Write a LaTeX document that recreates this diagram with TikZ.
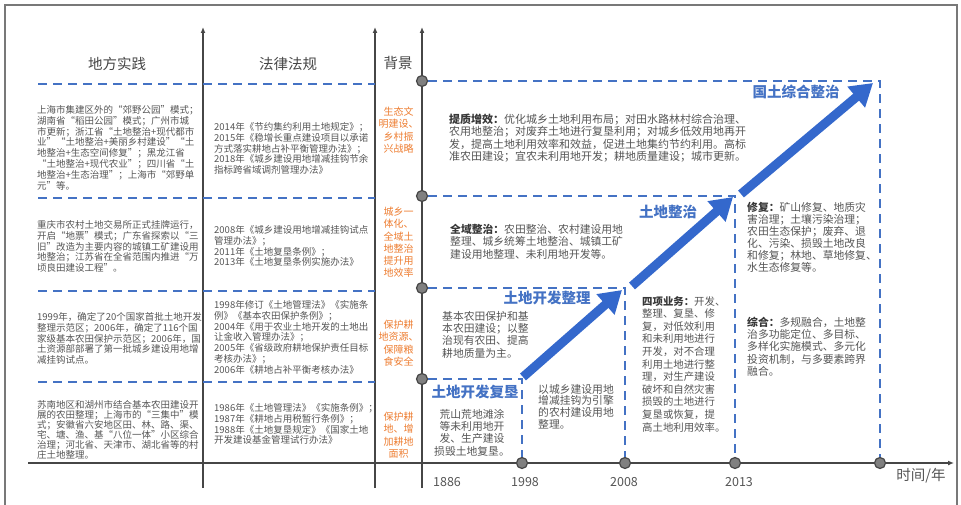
\documentclass[tikz,border=0pt]{standalone}
\usepackage{fontspec}
\setmainfont{Noto Sans CJK SC}
\newfontfamily\fwq{Noto Sans CJK SC}[RawFeature=+fwid]
\newcommand{\qo}{{\fwq “}}
\newcommand{\qc}{{\fwq ”}}
\usetikzlibrary{arrows.meta}
\definecolor{dashblue}{RGB}{68,114,196}
\definecolor{arrowblue}{RGB}{52,104,204}
\definecolor{lblblue}{RGB}{68,114,196}
\definecolor{bgorange}{RGB}{237,125,49}
\definecolor{txtgray}{RGB}{85,85,85}
\definecolor{boldgray}{RGB}{55,55,55}
\definecolor{axisgray}{RGB}{70,70,70}
\definecolor{dotfill}{RGB}{128,128,128}
\definecolor{framegray}{RGB}{120,120,120}
\tikzset{
  dashline/.style={dashblue, line width=2.2pt, dash pattern=on 9pt off 6pt},
  axisline/.style={axisgray, line width=1.3pt},
  axisarrow/.style={axisline, -{Latex[length=6pt,width=5pt]}},
  dot/.style={circle, draw=axisgray, fill=dotfill, line width=1.2pt, minimum size=11pt, inner sep=0pt},
  bigarrow/.style={arrowblue, line width=9pt, -{Triangle[length=22pt,width=26pt]}},
  lefttext/.style={anchor=north west, inner sep=0pt, align=left, text=txtgray, font=\fontsize{9.5}{10.9}\selectfont},
  righttext/.style={anchor=north west, inner sep=0pt, align=left, text=txtgray, font=\fontsize{10.8}{12.3}\selectfont},
  bgtext/.style={anchor=north, inner sep=0pt, align=center, text=bgorange, font=\fontsize{10}{12.2}\selectfont},
  header/.style={text=axisgray, inner sep=0pt, font=\fontsize{14.5}{16}\selectfont},
  stagelbl/.style={text=lblblue, inner sep=0pt, font=\bfseries\fontsize{14.5}{16}\selectfont},
  yearlbl/.style={text=txtgray, inner sep=0pt, font=\fontsize{12.5}{14}\selectfont},
}
\newcommand{\hd}[1]{{\bfseries\color{boldgray}#1}}
\begin{document}
\begin{tikzpicture}[x=1pt,y=-1pt]
\useasboundingbox (0,0) rectangle (961,505);
% frame
\draw[framegray, line width=1.5pt] (5,505) -- (5,5) -- (957,5) -- (957,505);

% axes
\coordinate (c1b) at (203,488); \coordinate (c1t) at (203,27);
\coordinate (c2b) at (375,488); \coordinate (c2t) at (375,27);
\coordinate (c3b) at (422,488); \coordinate (c3t) at (422,27);
\coordinate (hl) at (28,463); \coordinate (hr) at (954,463);
\draw[axisarrow] (c1b) -- (c1t);
\draw[axisarrow] (c2b) -- (c2t);
\draw[axisarrow] (c3b) -- (c3t);
\draw[axisarrow] (hl) -- (hr);

% left dashed separators
\foreach \i/\yy in {1/84,2/198,3/291,4/382}{
  \coordinate (ls\i) at (38,\yy); \coordinate (le\i) at (375,\yy);
  \draw[dashline] (ls\i) -- (le\i);
}

% dots
\node[dot] (v1) at (422,81) {};
\node[dot] (v2) at (422,196) {};
\node[dot] (v3) at (422,288) {};
\node[dot] (v4) at (422,379) {};
\node[dot] (h1) at (522,463) {};
\node[dot] (h2) at (625,463) {};
\node[dot] (h3) at (735,463) {};
\node[dot] (h4) at (880,463) {};

% stage boxes
\draw[dashline] (v1) -- (v1 -| h4) -- (h4);
\draw[dashline] (v2) -- (v2 -| h3) -- (h3);
\draw[dashline] (v3) -- (v3 -| h2) -- (h2);
\draw[dashline] (v4) -- (v4 -| h1) -- (h1);

% big arrows
\coordinate (a1s) at (523,377); \coordinate (a1e) at (622,290);
\coordinate (a2s) at (632,286); \coordinate (a2e) at (733,197);
\coordinate (a3s) at (741,194); \coordinate (a3e) at (873,83);
\draw[bigarrow] (a1s) -- (a1e);
\draw[bigarrow] (a2s) -- (a2e);
\draw[bigarrow] (a3s) -- (a3e);

% headers
\node[header] (hdA) at (117,64) {地方实践};
\node[header] (hdB) at (288,64) {法律法规};
\node[header] (hdC) at (398,63) {背景};

% left column
\node[lefttext] (L1) at (37,105) {上海市集建区外的\qo 郊野公园\qc 模式；\\
湖南省\qo 稻田公园\qc 模式；广州市城\\
市更新；浙江省\qo 土地整治+现代都市\\
业\qc\qo 土地整治+美丽乡村建设\qc\qo 土\\
地整治+生态空间修复\qc ；黑龙江省\\
\qo 土地整治+现代农业\qc ；四川省\qo 土\\
地整治+生态治理\qc ；上海市\qo 郊野单\\
元\qc 等。};
\node[lefttext] (L2) at (37,220) {重庆市农村土地交易所正式挂牌运行，\\
开启\qo 地票\qc 模式；广东省探索以\qo 三\\
旧\qc 改造为主要内容的城镇工矿建设用\\
地整治；江苏省在全省范围内推进\qo 万\\
顷良田建设工程\qc 。};
\node[lefttext] (L3) at (37,312) {1999年，确定了20个国家首批土地开发\\
整理示范区；2006年，确定了116个国\\
家级基本农田保护示范区；2006年，国\\
土资源部部署了第一批城乡建设用地增\\
减挂钩试点。};
\node[lefttext, font=\fontsize{9.5}{9.9}\selectfont] (L4) at (37,400.5) {苏南地区和湖州市结合基本农田建设开\\
展的农田整理；上海市的\qo 三集中\qc 模\\
式；安徽省六安地区田、林、路、渠、\\
宅、塘、渔、基\qo 八位一体\qc 小区综合\\
治理；河北省、天津市、湖北省等的村\\
庄土地整理。};

% law column
\node[lefttext] (W1) at (214,122) {2014年《节约集约利用土地规定》；\\
2015年《稳增长重点建设项目以承诺\\
方式落实耕地占补平衡管理办法》；\\
2018年《城乡建设用地增减挂钩节余\\
指标跨省域调剂管理办法》};
\node[lefttext] (W2) at (214,225) {2008年《城乡建设用地增减挂钩试点\\
管理办法》；\\
2011年《土地复垦条例》；\\
2013年《土地复垦条例实施办法》};
\node[lefttext] (W3) at (214,300) {1998年修订《土地管理法》《实施条\\
例》《基本农田保护条例》；\\
2004年《用于农业土地开发的土地出\\
让金收入管理办法》；\\
2005年《省级政府耕地保护责任目标\\
考核办法》；\\
2006年《耕地占补平衡考核办法》};
\node[lefttext] (W4) at (214,403) {1986年《土地管理法》《实施条例》；\\
1987年《耕地占用税暂行条例》；\\
1988年《土地复垦规定》《国家土地\\
开发建设基金管理试行办法》};

% background column
\node[bgtext] (B1) at (398.5,107) {生态文\\明建设、\\乡村振\\兴战略};
\node[bgtext] (B2) at (398.5,207) {城乡一\\体化、\\全域土\\地整治\\提升用\\地效率};
\node[bgtext] (B3) at (398.5,320) {保护耕\\地资源、\\保障粮\\食安全};
\node[bgtext] (B4) at (398.5,412) {保护耕\\地、增\\加耕地\\面积};

% stage labels
\node[stagelbl] (s1) at (475,392) {土地开发复垦};
\node[stagelbl] (s2) at (547,298) {土地开发整理};
\node[stagelbl] (s3) at (668,212) {土地整治};
\node[stagelbl] (s4) at (796,92) {国土综合整治};

% right texts
\node[righttext, font=\fontsize{11}{12.2}\selectfont] (R1) at (449,114) {\hd{提质增效：}优化城乡土地利用布局；对田水路林村综合治理、\\
农用地整治；对废弃土地进行复垦利用；对城乡低效用地再开\\
发，提高土地利用效率和效益，促进土地集约节约利用。高标\\
准农田建设；宜农未利用地开发；耕地质量建设；城市更新。};
\node[righttext] (R2) at (450,224) {\hd{全域整治：}农田整治、农村建设用地\\
整理、城乡统筹土地整治、城镇工矿\\
建设用地整理、未利用地开发等。};
\node[righttext] (R3) at (442,311) {基本农田保护和基\\
本农田建设；以整\\
治现有农田、提高\\
耕地质量为主。};
\node[righttext, anchor=north, align=center] (R4) at (472,409) {荒山荒地滩涂\\
等未利用地开\\
发、生产建设\\
损毁土地复垦。};
\node[righttext, font=\fontsize{10.8}{11.6}\selectfont] (R5) at (538,384) {以城乡建设用地\\
增减挂钩为引擎\\
的农村建设用地\\
整理。};
\node[righttext, font=\fontsize{10.4}{12.6}\selectfont] (R6) at (642,296) {\hd{四项业务：}开发、\\
整理、复垦、修\\
复，对低效利用\\
和未利用地进行\\
开发，对不合理\\
利用土地进行整\\
理，对生产建设\\
破坏和自然灾害\\
损毁的土地进行\\
复垦或恢复，提\\
高土地利用效率。};
\node[righttext, font=\fontsize{10.8}{12}\selectfont] (R7) at (747,202) {\hd{修复：}矿山修复、地质灾\\
害治理；土壤污染治理；\\
农田生态保护；废弃、退\\
化、污染、损毁土地改良\\
和修复；林地、草地修复、\\
水生态修复等。};
\node[righttext, font=\fontsize{10.8}{12.2}\selectfont] (R8) at (747,317) {\hd{综合：}多规融合，土地整\\
治多功能定位、多目标、\\
多样化实施模式、多元化\\
投资机制，与多要素跨界\\
融合。};

% years
\node[yearlbl] (y1) at (447,482) {1886};
\node[yearlbl] (y2) at (525,482) {1998};
\node[yearlbl] (y3) at (624,482) {2008};
\node[yearlbl] (y4) at (739,482) {2013};
\node[header, text=txtgray] (tl) at (921,476) {时间/年};
\end{tikzpicture}
\end{document}
